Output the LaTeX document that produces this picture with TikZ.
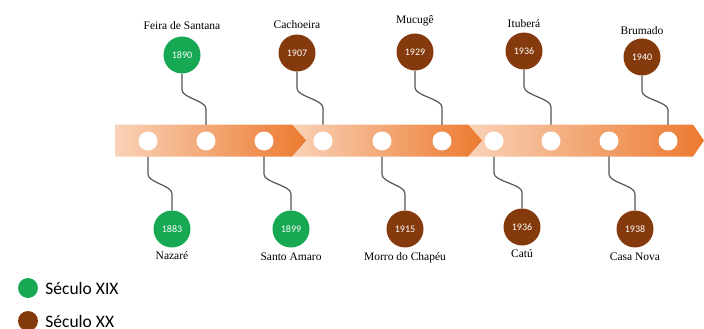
\documentclass[tikz,border=0pt]{standalone}
\usepackage{fontspec}
\setmainfont{Liberation Serif}
\newfontfamily\calfont{Carlito}
\usepackage{tikz}
\usetikzlibrary{positioning,calc}
\pgfdeclarelayer{background}
\pgfsetlayers{background,main}
\definecolor{verde}{RGB}{22,168,82}
\definecolor{marrom}{RGB}{132,58,12}
\definecolor{faixaclara}{RGB}{249,210,183}
\definecolor{faixaescura}{RGB}{236,122,48}
\definecolor{cinza}{RGB}{85,85,85}

\begin{document}
\begin{tikzpicture}[x=1pt,y=-1pt]
    \tikzset{evento/.style={circle,minimum size=37pt,inner sep=0pt,text=white,font=\calfont\fontsize{10}{12}\selectfont},
             xix/.style={evento,fill=verde},
             xx/.style={evento,fill=marrom},
             ponto/.style={circle,fill=white,minimum size=19pt,inner sep=0pt},
             cidade/.style={inner sep=1pt,font=\fontsize{11.5}{13}\selectfont},
             ligacao/.style={draw=cinza,line width=1.2pt},
             onda/.style={to path={-- ($(\tikztostart)!.24!(\tikztostart |- \tikztotarget)$)
                 .. controls ($(\tikztostart)!.36!(\tikztostart |- \tikztotarget)$)
                 and ($(\tikztotarget)!.6!(\tikztotarget |- \tikztostart)$)
                 .. ($(\tikztotarget)!.48!(\tikztotarget |- \tikztostart)$) -- (\tikztotarget)}}}
    \useasboundingbox (0,0) rectangle (704,329);

    % faixa
    \shade[left color=faixaclara,right color=faixaescura] (468,124.5) -- (693,124.5) -- (704,140.5) -- (693,156.5) -- (468,156.5) -- cycle;
    \shade[left color=faixaclara,right color=faixaescura] (292,124.5) -- (468,124.5) -- (482,140.5) -- (468,156.5) -- (292,156.5) -- cycle;
    \shade[left color=faixaclara,right color=faixaescura] (115,124.5) -- (292,124.5) -- (306,140.5) -- (292,156.5) -- (115,156.5) -- cycle;

    \foreach \n/\x in {1/148,2/206,3/264,4/323,5/382,6/442,7/494,8/551,9/609,10/668}
        \node[ponto] (d\n) at (\x,141) {};

    % acima
    \node[xix] (feira) at (182,55) {1890};
    \node[xx] (cachoeira) at (297,53) {1907};
    \node[xx] (mucuge) at (415,52) {1929};
    \node[xx] (itubera) at (524,51) {1936};
    \node[xx] (brumado) at (642,57) {1940};
    \node[cidade] (lfeira) [above=5pt of feira] {Feira de Santana};
    \node[cidade] (lcachoeira) [above=4pt of cachoeira] {Cachoeira};
    \node[cidade] (lmucuge) [above=6pt of mucuge] {Mucugê};
    \node[cidade] (litubera) [above=3pt of itubera] {Ituberá};
    \node[cidade] (lbrumado) [above=2pt of brumado] {Brumado};

    % abaixo
    \node[xix] (nazare) at (172,229) {1883};
    \node[xix] (amaro) at (291,229) {1899};
    \node[xx] (morro) at (405,229) {1915};
    \node[xx] (catu) at (522,227) {1936};
    \node[xx] (casanova) at (635,229) {1938};
    \node[cidade] (lnazare) [below=3pt of nazare] {Nazaré};
    \node[cidade] (lamaro) [below=4pt of amaro] {Santo Amaro};
    \node[cidade] (lmorro) [below=4pt of morro] {Morro do Chapéu};
    \node[cidade] (lcatu) [below=3pt of catu] {Catú};
    \node[cidade] (lcasanova) [below=4pt of casanova] {Casa Nova};

    \begin{pgfonlayer}{background}
    \path[ligacao] (feira.south) to[onda] (d2)
                   (cachoeira.south) to[onda] (d4)
                   (mucuge.south) to[onda] (d6)
                   (itubera.south) to[onda] (d8)
                   (brumado.south) to[onda] (d10)
                   (nazare.north) to[onda] (d1)
                   (amaro.north) to[onda] (d3)
                   (morro.north) to[onda] (d5)
                   (catu.north) to[onda] (d7)
                   (casanova.north) to[onda] (d9);
    \end{pgfonlayer}

    % legenda
    \node[circle,fill=verde,minimum size=20pt,inner sep=0pt] (kxix) at (28,288) {};
    \node[circle,fill=marrom,minimum size=20pt,inner sep=0pt] (kxx) at (28,321) {};
    \node[inner sep=0pt,font=\calfont\fontsize{17.5}{20}\selectfont] (txix) [right=7pt of kxix] {Século XIX};
    \node[inner sep=0pt,font=\calfont\fontsize{17.5}{20}\selectfont] (txx) [right=7pt of kxx] {Século XX};
\end{tikzpicture}
\end{document}
